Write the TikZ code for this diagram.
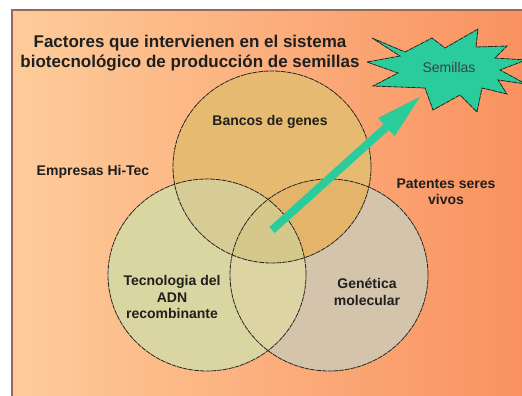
\documentclass[tikz,border=0pt]{standalone}
\usepackage{fontspec}
\setmainfont{Liberation Sans}
\usetikzlibrary{arrows.meta}
\definecolor{bgL}{RGB}{253,204,154}
\definecolor{bgR}{RGB}{249,146,96}
\definecolor{cTop}{RGB}{230,186,112}
\definecolor{cL}{RGB}{218,214,162}
\definecolor{cR}{RGB}{212,196,172}
\definecolor{cTL}{RGB}{216,204,150}
\definecolor{cTR}{RGB}{228,180,106}
\definecolor{cLR}{RGB}{220,212,162}
\definecolor{cTLR}{RGB}{214,200,138}
\definecolor{seedgreen}{RGB}{42,204,156}
\definecolor{framec}{RGB}{150,105,90}
\def\venA{(272,167) ellipse [x radius=99pt, y radius=96pt]}
\def\venB{(207,275) ellipse [x radius=99pt, y radius=96pt]}
\def\venC{(329,275) ellipse [x radius=99pt, y radius=96pt]}
\begin{document}
\begin{tikzpicture}[x=1pt,y=-1pt,
  lbl/.style={font=\bfseries\fontsize{14}{16.5}\selectfont, align=center, text=black!88, inner sep=0pt},
  outline/.style={draw=black!85, line width=0.8pt, dash pattern=on 5pt off 0.8pt}]
\useasboundingbox (0,0) rectangle (522,396);
\fill[white] (0,0) rectangle (522,396);
\shade[left color=bgL, right color=bgR] (12,10) rectangle (522,396);
\draw[framec, line width=1.5pt] (12,396) -- (12,10) -- (522,10);
% Venn circles
\fill[cTop] \venA;
\fill[cL] \venB;
\fill[cR] \venC;
\begin{scope}\clip \venA; \fill[cTL] \venB; \fill[cTR] \venC;\end{scope}
\begin{scope}\clip \venB; \fill[cLR] \venC;\end{scope}
\begin{scope}\clip \venA; \clip \venB; \fill[cTLR] \venC;\end{scope}
\draw[outline] \venA;
\draw[outline] \venB;
\draw[outline] \venC;
% labels
\node[lbl, font=\bfseries\fontsize{17}{20}\selectfont] (title) at (190,53) {Factores que intervienen en el sistema\\biotecnológico de producción de semillas};
\node[lbl] (bancos) at (270,122) {Bancos de genes};
\node[lbl] (empresas) at (93,172) {Empresas Hi-Tec};
\node[lbl] (patentes) at (446,192) {Patentes seres\\vivos};
\node[lbl] (tec) at (172,297) {Tecnologia del\\ADN\\recombinante};
\node[lbl] (gen) at (367,292) {Genética\\molecular};
% arrow
\coordinate (atail) at (272,230);
\coordinate (atip) at (422,95);
\draw[seedgreen, line width=8pt, -{Triangle[length=48pt,width=22pt]}] (atail) -- (atip);
% starburst
\coordinate (s1) at (372,38);
\coordinate (s2) at (405,52);
\coordinate (s3) at (432,38);
\coordinate (s4) at (445,48);
\coordinate (s5) at (478,29);
\coordinate (s6) at (476,47);
\coordinate (s7) at (507,46);
\coordinate (s8) at (495,58);
\coordinate (s9) at (526,60);
\coordinate (s10) at (500,70);
\coordinate (s11) at (526,84);
\coordinate (s12) at (498,80);
\coordinate (s13) at (507,94);
\coordinate (s14) at (482,88);
\coordinate (s15) at (477,112);
\coordinate (s16) at (460,95);
\coordinate (s17) at (433,110);
\coordinate (s18) at (425,88);
\coordinate (s19) at (373,86);
\coordinate (s20) at (398,73);
\coordinate (s21) at (367,62);
\coordinate (s22) at (400,56);
\filldraw[fill=seedgreen, outline] (s1)--(s2)--(s3)--(s4)--(s5)--(s6)--(s7)--(s8)--(s9)--(s10)--(s11)--(s12)--(s13)--(s14)--(s15)--(s16)--(s17)--(s18)--(s19)--(s20)--(s21)--(s22)--cycle;
\node[font=\fontsize{14}{16}\selectfont, text=black!75, inner sep=0pt] (sem) at (449,67) {Semillas};
\end{tikzpicture}
\end{document}
